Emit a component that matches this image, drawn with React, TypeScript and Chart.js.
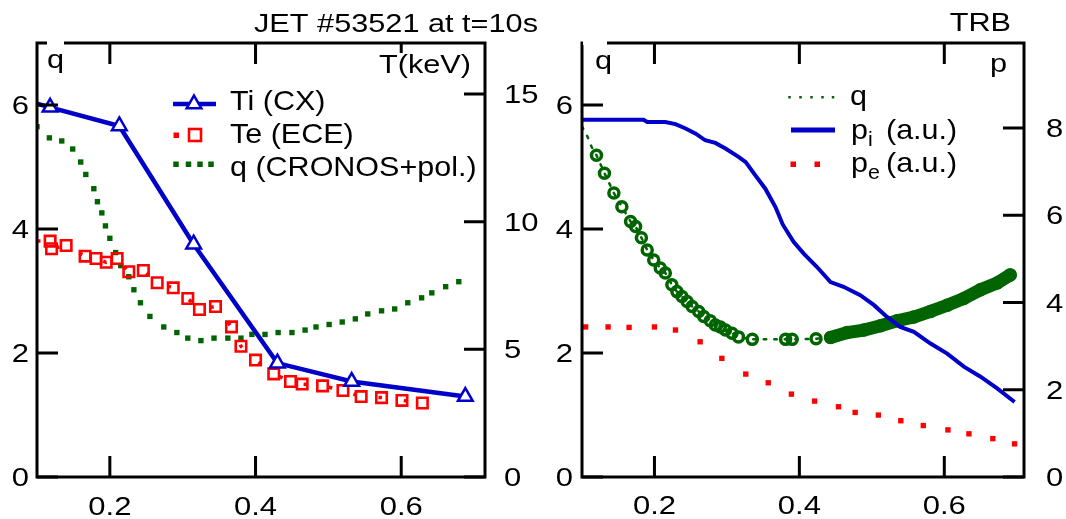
import React, { useEffect, useRef } from 'react';
import { Chart, registerables } from 'chart.js';

Chart.register(...registerables);

const FONT = '"Liberation Sans", Arial, Helvetica, sans-serif';
const BLUE = '#0000c8';
const RED = '#ff0000';
const GREEN = '#006400';

// ---------- shared tick labels ----------
const xTicks = [0.2, 0.4, 0.6];
const qTicks = [0, 2, 4, 6];
const tTicks = [0, 5, 10, 15];
const pTicks = [0, 2, 4, 6, 8];

// ---------- left panel: JET #53521 at t=10s ----------
const tiX = [0.100, 0.118, 0.213, 0.315, 0.430, 0.532, 0.688];
const tiT = [14.62, 14.48, 13.75, 9.12, 4.46, 3.74, 3.15];

const teX = [0.100, 0.118, 0.120, 0.140, 0.166, 0.181, 0.195, 0.210, 0.226, 0.246, 0.265, 0.287, 0.307, 0.323, 0.345, 0.367, 0.380, 0.400, 0.425, 0.448, 0.464, 0.492, 0.520, 0.545, 0.573, 0.601, 0.629];
const teT = [9.24, 9.24, 8.94, 9.07, 8.65, 8.56, 8.41, 8.56, 8.04, 8.09, 7.61, 7.41, 6.99, 6.56, 6.68, 5.88, 5.12, 4.58, 4.04, 3.74, 3.64, 3.57, 3.39, 3.15, 3.11, 3.00, 2.90];

const qLX = [0.100, 0.117, 0.134, 0.149, 0.160, 0.167, 0.178, 0.183, 0.189, 0.194, 0.200, 0.208, 0.215, 0.226, 0.233, 0.242, 0.255, 0.274, 0.292, 0.307, 0.325, 0.343, 0.362, 0.380, 0.395, 0.413, 0.431, 0.450, 0.468, 0.483, 0.501, 0.519, 0.537, 0.554, 0.573, 0.591, 0.609, 0.628, 0.642, 0.661, 0.679];
const qLY = [5.65, 5.47, 5.42, 5.29, 5.08, 4.88, 4.65, 4.44, 4.26, 4.05, 3.85, 3.62, 3.41, 3.23, 3.02, 2.81, 2.59, 2.42, 2.33, 2.24, 2.20, 2.24, 2.24, 2.24, 2.30, 2.30, 2.33, 2.33, 2.37, 2.42, 2.46, 2.50, 2.55, 2.63, 2.68, 2.71, 2.81, 2.89, 2.97, 3.07, 3.15];

// ---------- right panel: TRB ----------
const qRX = [0.100, 0.108, 0.113, 0.120, 0.131, 0.144, 0.155, 0.167, 0.174, 0.182, 0.190, 0.199, 0.208, 0.215, 0.224, 0.231, 0.238, 0.245, 0.252, 0.261, 0.268, 0.277, 0.284, 0.291, 0.298, 0.307, 0.316, 0.335, 0.381, 0.390, 0.423, 0.443, 0.466, 0.489, 0.512, 0.535, 0.558, 0.581, 0.604, 0.627, 0.650, 0.673, 0.691];
const qRY = [5.65, 5.48, 5.33, 5.19, 4.90, 4.58, 4.36, 4.12, 4.04, 3.86, 3.66, 3.50, 3.37, 3.29, 3.10, 2.99, 2.91, 2.83, 2.75, 2.67, 2.59, 2.52, 2.45, 2.42, 2.37, 2.32, 2.26, 2.22, 2.22, 2.22, 2.23, 2.25, 2.33, 2.37, 2.44, 2.52, 2.58, 2.67, 2.77, 2.88, 3.02, 3.13, 3.26];

const piX = [0.100, 0.185, 0.190, 0.215, 0.229, 0.243, 0.257, 0.270, 0.284, 0.298, 0.316, 0.326, 0.339, 0.353, 0.367, 0.377, 0.392, 0.406, 0.424, 0.443, 0.461, 0.484, 0.503, 0.521, 0.539, 0.558, 0.581, 0.604, 0.627, 0.650, 0.673, 0.697];
const piY = [8.19, 8.19, 8.14, 8.14, 8.09, 7.99, 7.87, 7.72, 7.66, 7.53, 7.34, 7.22, 6.92, 6.61, 6.19, 5.79, 5.39, 5.12, 4.82, 4.47, 4.36, 4.17, 3.94, 3.67, 3.44, 3.33, 3.06, 2.83, 2.53, 2.30, 2.03, 1.72];

const peX = [0.105, 0.136, 0.165, 0.200, 0.229, 0.263, 0.293, 0.326, 0.357, 0.389, 0.421, 0.454, 0.477, 0.509, 0.540, 0.571, 0.605, 0.634, 0.667, 0.697];
const peY = [3.44, 3.44, 3.43, 3.44, 3.37, 3.10, 2.72, 2.36, 2.16, 1.90, 1.74, 1.61, 1.48, 1.42, 1.29, 1.18, 1.08, 0.99, 0.88, 0.76];

const pts = (xs: number[], ys: number[]) => xs.map((x, i) => ({ x, y: ys[i] }));

// text styles (the reference type is slightly stretched horizontally)
const TICK_SIZE = 26.5, TICK_SX = 1.17;
const LAB_SIZE = 26, LAB_SX = 1.18;
const LEG_SIZE = 28.5, LEG_SX = 1.07;

function makeAxis(position: string, min: number, max: number, tickVals: number[], size: number) {
  return {
    type: 'linear',
    position,
    min,
    max,
    grid: { display: false, drawTicks: false },
    border: { display: false },
    ticks: { display: false },
    afterBuildTicks: (s: any) => { s.ticks = tickVals.map((v) => ({ value: v })); },
    afterFit: (s: any) => {
      if (position === 'bottom') s.height = size; else s.width = size;
      s.paddingTop = 0; s.paddingBottom = 0; s.paddingLeft = 0; s.paddingRight = 0;
    },
  };
}

const txt = (ctx: CanvasRenderingContext2D, s: string, x: number, y: number, size: number, sx: number, align: CanvasTextAlign = 'left') => {
  ctx.save();
  ctx.font = `${size}px ${FONT}`;
  ctx.fillStyle = '#000';
  ctx.textAlign = align;
  ctx.textBaseline = 'alphabetic';
  ctx.translate(x, y);
  ctx.scale(sx, 1);
  ctx.fillText(s, 0, 0);
  ctx.restore();
};

interface LabelPos { leftX: number; rightX: number; baseX: number; }

function framePlugin(leftId: string, rightId: string, lTicks: number[], rTicks: number[], lp: LabelPos, extra: (ctx: CanvasRenderingContext2D) => void) {
  return {
    id: 'frameAndLabels',
    afterDatasetsDraw(chart: any) {
      const { ctx, chartArea: a, scales } = chart;
      ctx.save();
      ctx.strokeStyle = '#000';
      ctx.lineWidth = 3;
      ctx.strokeRect(a.left, a.top, a.right - a.left, a.bottom - a.top);
      const L = 21;
      ctx.beginPath();
      xTicks.forEach((v) => {
        const px = scales.x.getPixelForValue(v);
        ctx.moveTo(px, a.bottom); ctx.lineTo(px, a.bottom - L);
        ctx.moveTo(px, a.top); ctx.lineTo(px, a.top + L);
      });
      lTicks.forEach((v) => {
        const py = scales[leftId].getPixelForValue(v);
        ctx.moveTo(a.left, py); ctx.lineTo(a.left + L, py);
      });
      rTicks.forEach((v) => {
        const py = scales[rightId].getPixelForValue(v);
        ctx.moveTo(a.right, py); ctx.lineTo(a.right - L, py);
      });
      ctx.stroke();
      ctx.restore();
      // tick labels
      xTicks.forEach((v) => txt(ctx, v.toFixed(1), scales.x.getPixelForValue(v), lp.baseX, TICK_SIZE, TICK_SX, 'center'));
      lTicks.forEach((v) => txt(ctx, String(v), lp.leftX, scales[leftId].getPixelForValue(v) + 9, TICK_SIZE, TICK_SX, 'right'));
      rTicks.forEach((v) => txt(ctx, String(v), lp.rightX, scales[rightId].getPixelForValue(v) + 9, TICK_SIZE, TICK_SX, 'left'));
      ctx.save();
      extra(ctx);
      ctx.restore();
    },
  };
}

const atEdge = (c: any) => !!(c.raw && c.raw.x <= 0.1001);

function leftConfig(): any {
  return {
    type: 'line',
    data: {
      datasets: [
        {
          label: 'Ti (CX)', data: pts(tiX, tiT), yAxisID: 'yT',
          borderColor: BLUE, borderWidth: 4.5, tension: 0,
          pointStyle: 'triangle',
          pointRadius: (c: any) => (atEdge(c) ? 0 : 8.5),
          pointBorderWidth: 2.5, pointBorderColor: BLUE, pointBackgroundColor: '#fff',
        },
        {
          label: 'Te (ECE)', data: pts(teX, teT), yAxisID: 'yT',
          borderColor: RED, borderWidth: 3.5, borderDash: [3.5, 22], tension: 0,
          pointStyle: 'rect',
          pointRadius: (c: any) => (atEdge(c) ? 0 : 7.4),
          pointBorderWidth: 2.6, pointBorderColor: RED, pointBackgroundColor: 'rgba(0,0,0,0)',
        },
        {
          label: 'q (CRONOS+pol.)', data: pts(qLX, qLY), yAxisID: 'yq',
          showLine: false, pointStyle: 'rect', pointRadius: 3.8, pointBorderWidth: 0,
          pointBackgroundColor: GREEN, borderColor: GREEN,
        },
      ],
    },
    options: {
      responsive: false, maintainAspectRatio: false, animation: false,
      layout: { padding: { top: 43, left: 0, right: 0, bottom: 0 } },
      plugins: { legend: { display: false }, tooltip: { enabled: false }, title: { display: false } },
      scales: {
        x: makeAxis('bottom', 0.1, 0.715, xTicks, 42),
        yq: makeAxis('left', 0, 7, qTicks, 37),
        yT: makeAxis('right', 0, 17, tTicks, 60),
      },
    },
    plugins: [
      framePlugin('yq', 'yT', qTicks, tTicks, { leftX: 29, rightX: 504, baseX: 515 }, (ctx) => {
        ctx.fillStyle = '#fff';
        ctx.fillRect(47, 41, 17, 4);
        ctx.fillRect(372, 53, 99, 27);
        txt(ctx, 'JET #53521 at t=10s', 538, 32, LAB_SIZE, LAB_SX, 'right');
        txt(ctx, 'q', 47, 68, LAB_SIZE, LAB_SX);
        txt(ctx, 'T(keV)', 471, 73, LAB_SIZE, LAB_SX, 'right');
        // legend
        ctx.strokeStyle = BLUE; ctx.lineWidth = 4.5;
        ctx.beginPath(); ctx.moveTo(173, 104); ctx.lineTo(216, 104); ctx.stroke();
        ctx.fillStyle = '#fff'; ctx.lineWidth = 2.5;
        ctx.beginPath();
        const r = 8.5;
        ctx.moveTo(194, 104 - r);
        ctx.lineTo(194 + r * Math.sin(2 * Math.PI / 3), 104 - r * Math.cos(2 * Math.PI / 3));
        ctx.lineTo(194 + r * Math.sin(4 * Math.PI / 3), 104 - r * Math.cos(4 * Math.PI / 3));
        ctx.closePath(); ctx.fill(); ctx.stroke();
        txt(ctx, 'Ti (CX)', 230, 110, LEG_SIZE, LEG_SX);
        ctx.fillStyle = RED; ctx.fillRect(173.5, 132.5, 5.5, 5.5);
        ctx.strokeStyle = RED; ctx.lineWidth = 2.6; ctx.strokeRect(189, 129, 12, 12);
        txt(ctx, 'Te (ECE)', 230, 143, LEG_SIZE, LEG_SX);
        ctx.fillStyle = GREEN;
        [176, 188.5, 200, 211].forEach((x) => ctx.fillRect(x - 2.75, 161.5, 5.5, 5.5));
        txt(ctx, 'q (CRONOS+pol.)', 230, 176, LEG_SIZE, LEG_SX);
      }),
    ],
  };
}

function rightConfig(): any {
  return {
    type: 'line',
    data: {
      datasets: [
        {
          label: 'pi (a.u.)', data: pts(piX, piY), yAxisID: 'yp',
          borderColor: BLUE, borderWidth: 4, tension: 0, pointRadius: 0,
        },
        {
          label: 'q', data: pts(qRX, qRY), yAxisID: 'yq',
          borderColor: GREEN, borderWidth: 2.5, borderDash: [2.5, 8], tension: 0,
          segment: {
            borderWidth: (c: any) => (c.p0.parsed.x >= 0.443 ? 13 : undefined),
            borderDash: (c: any) => (c.p0.parsed.x >= 0.443 ? [] : undefined),
          },
          borderCapStyle: 'round',
          pointStyle: 'circle',
          pointRadius: (c: any) => (c.raw && c.raw.x < 0.115 ? 0 : 5),
          pointBorderWidth: 3.5, pointBorderColor: GREEN, pointBackgroundColor: 'rgba(0,0,0,0)',
        },
        {
          label: 'pe (a.u.)', data: pts(peX, peY), yAxisID: 'yp',
          showLine: false, pointStyle: 'rect', pointRadius: 3.8, pointBorderWidth: 0,
          pointBackgroundColor: RED, borderColor: RED,
        },
      ],
    },
    options: {
      responsive: false, maintainAspectRatio: false, animation: false,
      layout: { padding: { top: 43, left: 0, right: 0, bottom: 0 } },
      plugins: { legend: { display: false }, tooltip: { enabled: false }, title: { display: false } },
      scales: {
        x: makeAxis('bottom', 0.1, 0.71, xTicks, 42),
        yq: makeAxis('left', 0, 7, qTicks, 37),
        yp: makeAxis('right', 0, 9.95, pTicks, 42),
      },
    },
    plugins: [
      framePlugin('yq', 'yp', qTicks, pTicks, { leftX: 28, rightX: 501, baseX: 514 }, (ctx) => {
        ctx.fillStyle = '#fff';
        ctx.fillRect(38, 41, 24, 4);
        txt(ctx, 'TRB', 466, 31, LAB_SIZE, LAB_SX, 'right');
        txt(ctx, 'q', 50, 69, LAB_SIZE, LAB_SX);
        txt(ctx, 'p', 445, 72, LAB_SIZE, LAB_SX);
        // legend
        ctx.fillStyle = GREEN;
        [244.5, 255.5, 266.5, 277.5, 288].forEach((x) => ctx.fillRect(x - 1.25, 96, 2.5, 2.5));
        txt(ctx, 'q', 305, 105, LEG_SIZE, LEG_SX);
        ctx.strokeStyle = BLUE; ctx.lineWidth = 5;
        ctx.beginPath(); ctx.moveTo(246, 130); ctx.lineTo(290, 130); ctx.stroke();
        txt(ctx, 'p', 306, 139, LEG_SIZE, LEG_SX);
        txt(ctx, 'i', 323, 146, 20, LEG_SX);
        txt(ctx, '(a.u.)', 341, 139, LEG_SIZE, LEG_SX);
        ctx.fillStyle = RED;
        ctx.fillRect(245.5, 161.5, 5.5, 5.5);
        ctx.fillRect(269.5, 161.5, 5.5, 5.5);
        txt(ctx, 'p', 306, 172, LEG_SIZE, LEG_SX);
        txt(ctx, 'e', 323, 179, 20, LEG_SX);
        txt(ctx, '(a.u.)', 341, 172, LEG_SIZE, LEG_SX);
      }),
    ],
  };
}

export default function App() {
  const refA = useRef<HTMLCanvasElement>(null);
  const refB = useRef<HTMLCanvasElement>(null);
  useEffect(() => {
    document.body.style.margin = '0';
    const a = new Chart(refA.current as HTMLCanvasElement, leftConfig());
    const b = new Chart(refB.current as HTMLCanvasElement, rightConfig());
    return () => { a.destroy(); b.destroy(); };
  }, []);
  return (
    <div style={{ position: 'absolute', left: 0, top: 0, width: 1066, height: 519, background: '#fff' }}>
      <canvas ref={refA} width={545} height={519} style={{ position: 'absolute', left: 0, top: 0, width: 545, height: 519 }} />
      <canvas ref={refB} width={521} height={519} style={{ position: 'absolute', left: 545, top: 0, width: 521, height: 519 }} />
    </div>
  );
}
